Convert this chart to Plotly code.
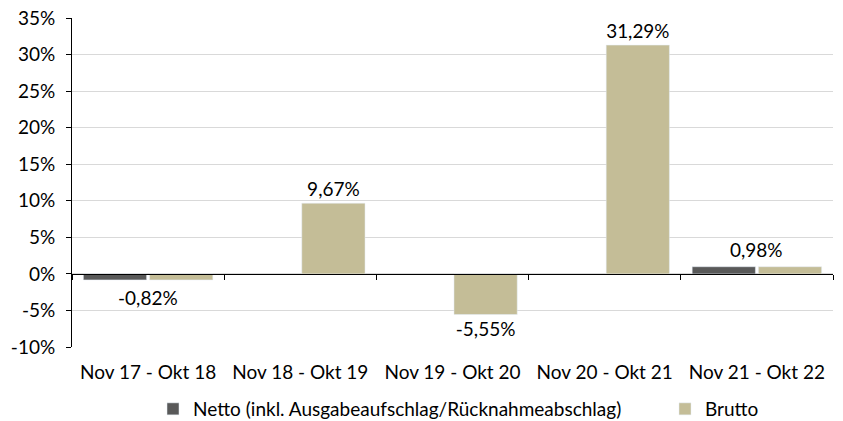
import plotly.graph_objects as go

categories = ["Nov 17 - Okt 18", "Nov 18 - Okt 19", "Nov 19 - Okt 20", "Nov 20 - Okt 21", "Nov 21 - Okt 22"]
netto = [-0.82, None, None, None, 0.98]
brutto = [-0.82, 9.67, -5.55, 31.29, 0.98]
y_ticks = [-10, -5, 0, 5, 10, 15, 20, 25, 30, 35]
y_tick_labels = [f"{v}%" for v in y_ticks]

def fmt(v):
    return f"{v:.2f}".replace(".", ",") + "%"

FONT = "Lato"
FS = 19
NETTO_C = "#595959"
BRUTTO_C = "#C4BD97"

# labels: categories with both series get a centred label, others on the Brutto bar
brutto_text = [fmt(b) if n is None else "" for n, b in zip(netto, brutto)]

fig = go.Figure()
fig.add_trace(go.Bar(
    x=categories, y=netto, name="Netto (inkl. Ausgabeaufschlag/Rücknahmeabschlag)",
    marker_color=NETTO_C, legend="legend",
))
fig.add_trace(go.Bar(
    x=categories, y=brutto, name="Brutto", marker_color=BRUTTO_C,
    text=brutto_text, textposition="outside", cliponaxis=False,
    textfont=dict(family=FONT, size=FS, color="#000000"), legend="legend2",
))
# invisible trace to carry the zero-line axis with boundary ticks
fig.add_trace(go.Bar(x=categories, y=[None]*5, xaxis="x2", showlegend=False, hoverinfo="skip"))

for c, n, b in zip(categories, netto, brutto):
    if n is not None:
        v = b
        fig.add_annotation(
            x=c, y=v, text=fmt(v), showarrow=False,
            yanchor="bottom" if v >= 0 else "top",
            yshift=4 if v >= 0 else -4,
            font=dict(family=FONT, size=FS, color="#000000"),
        )

legend_common = dict(orientation="h", xref="container", yref="container",
                     xanchor="left", y=12/421, yanchor="middle",
                     font=dict(family=FONT, size=FS), itemwidth=30,
                     bgcolor="rgba(0,0,0,0)")

fig.update_layout(
    width=843, height=421,
    margin=dict(l=72, r=10, t=18, b=74, autoexpand=False),
    plot_bgcolor="white", paper_bgcolor="white",
    barmode="group", bargap=0.13, bargroupgap=0.045,
    font=dict(family=FONT, size=FS, color="#000000"),
    showlegend=True,
    legend=dict(x=153/843, **legend_common),
    legend2=dict(x=665/843, **legend_common),
    yaxis=dict(range=[-10, 35], tickvals=y_ticks, ticktext=y_tick_labels,
               showgrid=True, gridcolor="#D9D9D9", gridwidth=1,
               showline=True, linecolor="#000000", linewidth=1,
               ticks="outside", ticklen=5, tickcolor="#000000",
               zeroline=False, tickfont=dict(family=FONT, size=FS),
               ticklabelstandoff=7, automargin=False),
    xaxis=dict(type="category", categoryarray=categories, showline=False, ticks="",
               showgrid=False, tickfont=dict(family=FONT, size=FS),
               ticklabelstandoff=12, automargin=False),
    xaxis2=dict(type="category", categoryarray=categories, overlaying="x", matches="x",
                anchor="free", position=10/45, showline=True, linecolor="#000000",
                linewidth=1, ticks="outside", ticklen=5, tickcolor="#000000",
                tickson="boundaries", showticklabels=False, showgrid=False,
                automargin=False),
)

fig.write_html("out.html", config={"displayModeBar": False},
               post_script="document.body.style.margin='0';")
